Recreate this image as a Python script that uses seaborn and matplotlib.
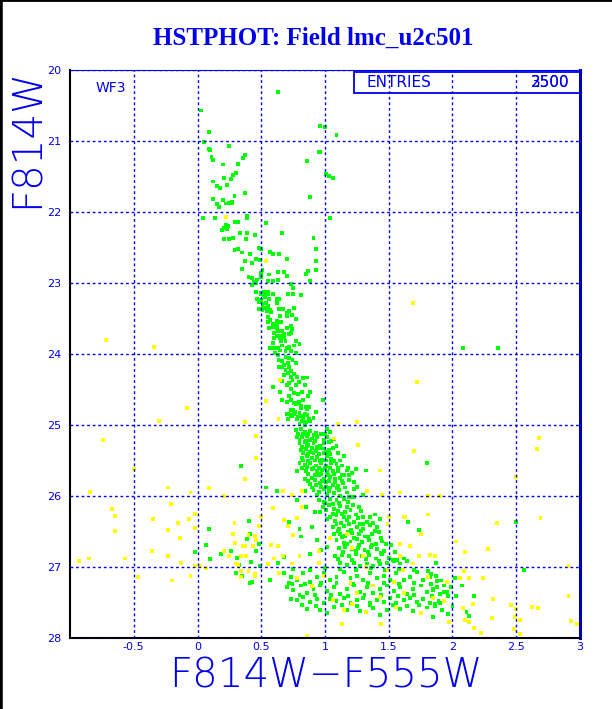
import pandas as pd
import matplotlib
matplotlib.use("Agg")
import matplotlib.pyplot as plt
import seaborn as sns
from matplotlib.ticker import MultipleLocator, FixedLocator

# data: (F814W-F555W, F814W)
upper_ms = [
    (0.63, 20.31), (0.03, 20.57), (0.96, 20.79), (1.00, 20.80), (1.09, 20.91), (0.09, 20.87),
    (0.05, 21.01), (0.25, 21.07), (0.09, 21.11), (0.10, 21.12), (0.37, 21.20), (0.36, 21.24),
    (0.95, 21.15), (0.96, 21.16), (0.11, 21.22), (0.12, 21.27), (0.86, 21.28), (0.32, 21.32),
    (0.20, 21.33), (1.01, 21.46), (1.03, 21.49), (1.06, 21.52), (0.28, 21.48), (0.30, 21.45),
    (0.21, 21.52), (0.26, 21.53), (0.12, 21.57), (0.23, 21.62), (0.15, 21.63), (0.18, 21.66),
    (0.37, 21.73), (0.29, 21.78), (0.88, 21.79), (0.12, 21.81), (0.20, 21.83), (0.25, 21.87),
    (0.27, 21.86), (0.27, 21.88), (0.22, 21.88), (0.15, 21.89), (0.17, 21.93), (0.04, 22.08),
    (0.14, 22.09), (0.39, 22.06), (0.39, 22.08), (0.32, 22.14), (0.29, 22.14), (0.54, 22.15),
    (1.04, 22.08), (0.22, 22.18), (0.24, 22.20), (0.21, 22.23), (0.19, 22.25), (0.23, 22.24),
    (0.39, 22.30), (0.45, 22.32), (0.33, 22.30), (0.66, 22.29), (0.21, 22.38), (0.25, 22.38),
    (0.28, 22.36), (0.38, 22.38), (0.91, 22.37),
]

mid_ms = [
    (0.29, 22.54), (0.32, 22.52), (0.48, 22.51), (0.50, 22.52), (0.57, 22.56), (0.59, 22.59),
    (0.64, 22.59), (0.35, 22.57), (0.41, 22.59), (0.46, 22.66), (0.49, 22.68), (0.43, 22.72),
    (0.37, 22.69), (0.70, 22.66), (0.93, 22.52), (0.93, 22.69), (0.35, 22.80), (0.51, 22.82),
    (0.50, 22.86), (0.56, 22.88), (0.63, 22.85), (0.68, 22.84), (0.93, 22.82), (0.87, 22.83),
    (0.85, 22.87), (0.40, 22.91), (0.43, 22.93), (0.47, 22.95), (0.50, 22.91), (0.55, 22.97),
    (0.59, 22.97), (0.63, 22.96), (0.70, 22.90), (0.88, 22.97), (0.44, 22.99), (0.46, 23.00),
    (0.43, 23.03), (0.73, 23.02), (0.75, 23.07), (0.46, 23.12), (0.50, 23.14), (0.52, 23.13),
    (0.55, 23.12), (0.55, 23.16), (0.50, 23.16), (0.52, 23.17), (0.59, 23.15), (0.71, 23.16),
    (0.75, 23.16), (0.81, 23.17), (0.47, 23.22), (0.50, 23.24), (0.53, 23.20), (0.56, 23.22),
    (0.62, 23.22), (0.64, 23.22), (0.48, 23.27), (0.51, 23.30), (0.54, 23.28), (0.55, 23.32),
    (0.62, 23.28), (0.64, 23.36), (0.67, 23.37), (0.70, 23.42), (0.72, 23.40), (0.76, 23.35),
    (0.51, 23.34), (0.535, 23.35), (0.51, 23.38), (0.545, 23.39), (0.48, 23.37), (0.57, 23.38),
    (0.58, 23.41), (0.65, 23.46), (0.70, 23.47), (0.74, 23.45), (0.77, 23.50), (0.555, 23.48),
    (0.57, 23.52), (0.55, 23.55), (0.59, 23.57), (0.62, 23.54), (0.62, 23.59), (0.655, 23.55),
    (0.59, 23.62), (0.56, 23.63), (0.62, 23.64), (0.63, 23.67), (0.665, 23.68), (0.70, 23.63),
    (0.74, 23.65), (0.73, 23.60), (0.60, 23.71), (0.62, 23.74), (0.645, 23.75), (0.675, 23.72),
    (0.72, 23.72), (0.60, 23.78), (0.645, 23.78), (0.68, 23.76), (0.655, 23.81), (0.69, 23.82),
    (0.73, 23.71), (0.77, 23.82), (0.80, 23.86), (0.755, 23.88), (0.72, 23.90), (0.70, 23.92),
    (0.665, 23.88), (0.63, 23.91), (0.59, 23.85), (0.60, 23.92), (0.57, 23.92), (0.61, 23.98),
    (0.65, 23.95), (0.69, 23.96), (0.73, 23.96), (0.775, 23.98), (0.63, 24.01), (0.69, 24.04),
    (0.72, 24.06), (0.635, 24.09), (0.665, 24.10), (0.71, 24.12), (0.745, 24.08), (0.77, 24.12),
    (0.68, 24.16), (0.72, 24.18), (0.66, 24.18), (0.64, 24.18), (0.69, 24.23), (0.73, 24.24),
    (0.71, 24.27), (0.675, 24.29), (0.755, 24.28), (0.78, 24.32), (0.83, 24.34), (0.86, 24.33),
    (0.73, 24.32), (0.795, 24.39), (0.77, 24.43), (0.72, 24.41), (0.70, 24.44), (0.845, 24.44),
    (0.745, 24.36), (0.59, 24.46), (0.645, 24.53), (0.665, 24.38), (0.73, 24.49), (0.755, 24.55),
    (0.79, 24.56), (0.82, 24.54), (0.88, 24.54), (0.87, 24.59), (0.72, 24.59), (0.665, 24.65),
    (0.70, 24.68), (0.73, 24.65), (0.755, 24.69), (0.795, 24.68), (0.83, 24.65), (0.77, 24.71),
    (0.81, 24.73), (0.85, 24.74), (0.875, 24.75), (0.93, 24.82), (0.985, 24.65), (0.70, 24.84),
    (0.73, 24.86), (0.76, 24.84), (0.785, 24.88), (0.81, 24.87), (0.84, 24.85), (0.75, 24.79),
    (0.71, 24.91), (0.83, 24.91), (0.875, 24.91), (0.91, 24.90), (2.08, 23.92), (2.36, 23.92),
    (0.79, 24.69), (0.81, 24.76), (0.86, 24.77), (0.73, 24.79), (0.765, 24.81), (0.80, 24.83),
    (0.83, 24.87), (0.86, 24.86), (0.74, 24.87), (0.78, 24.92), (0.82, 24.94), (0.85, 24.96),
    (0.885, 24.94), (0.71, 24.85), (0.80, 24.99), (0.84, 24.995),
]

lower_ms = [
    (0.77, 25.07), (0.81, 25.06), (0.84, 25.10), (0.885, 25.08), (0.93, 25.11), (1.015, 25.05),
    (1.04, 25.10), (0.78, 25.17), (0.82, 25.17), (0.86, 25.15), (0.90, 25.19), (0.94, 25.17),
    (1.015, 25.17), (1.07, 25.20), (0.80, 25.26), (0.84, 25.24), (0.87, 25.28), (0.91, 25.25),
    (0.96, 25.30), (0.995, 25.26), (1.03, 25.24), (0.81, 25.35), (0.85, 25.34), (0.885, 25.38),
    (0.93, 25.36), (0.96, 25.33), (1.005, 25.38), (1.03, 25.35), (1.09, 25.30), (0.82, 25.46),
    (0.86, 25.43), (0.90, 25.47), (0.94, 25.45), (0.98, 25.49), (1.015, 25.44), (1.05, 25.48),
    (1.15, 25.44), (0.80, 25.53), (0.84, 25.56), (0.885, 25.54), (0.93, 25.57), (0.97, 25.53),
    (1.005, 25.58), (1.05, 25.54), (1.09, 25.55), (1.13, 25.57), (1.24, 25.62), (1.32, 25.64),
    (0.78, 25.65), (0.85, 25.65), (0.895, 25.62), (0.94, 25.65), (0.98, 25.63), (1.015, 25.66),
    (1.06, 25.65), (1.105, 25.65), (1.17, 25.64), (1.21, 25.68), (0.84, 25.76), (0.90, 25.74),
    (0.95, 25.71), (0.995, 25.76), (1.04, 25.73), (1.08, 25.76), (1.12, 25.74), (1.15, 25.71),
    (1.225, 25.80), (0.885, 25.83), (0.93, 25.85), (0.96, 25.82), (1.01, 25.87), (1.06, 25.84),
    (1.10, 25.86), (1.14, 25.82), (1.005, 25.80), (0.84, 25.93), (0.91, 25.92), (0.95, 25.94),
    (0.99, 25.90), (1.03, 25.93), (1.07, 25.96), (1.11, 25.92), (1.17, 25.95), (1.225, 25.90),
    (1.30, 25.99), (0.94, 25.99), (1.015, 25.99), (1.12, 26.00), (1.20, 26.01),
    (0.79, 25.12), (0.83, 25.13), (0.87, 25.12), (0.91, 25.14), (0.97, 25.13), (1.00, 25.12),
    (0.80, 25.21), (0.85, 25.22), (0.88, 25.21), (0.92, 25.22), (0.99, 25.21), (1.05, 25.22),
    (0.82, 25.31), (0.86, 25.30), (0.90, 25.32), (0.94, 25.31), (0.99, 25.33), (1.06, 25.32),
    (0.83, 25.40), (0.87, 25.41), (0.91, 25.40), (0.95, 25.41), (0.99, 25.40), (1.04, 25.41),
    (1.10, 25.40), (0.83, 25.50), (0.87, 25.51), (0.92, 25.50), (0.96, 25.51), (1.01, 25.50),
    (1.07, 25.51), (1.12, 25.50), (0.82, 25.60), (0.86, 25.59), (0.91, 25.60), (0.95, 25.61),
    (1.00, 25.60), (1.04, 25.61), (1.10, 25.60), (1.18, 25.60), (0.87, 25.69), (0.92, 25.70),
    (0.97, 25.69), (1.02, 25.70), (1.07, 25.69), (1.13, 25.70), (1.19, 25.71), (0.87, 25.79),
    (0.92, 25.78), (0.98, 25.79), (1.03, 25.79), (1.08, 25.80), (1.13, 25.79), (1.19, 25.78),
    (0.90, 25.88), (0.97, 25.87), (1.04, 25.88), (1.09, 25.89), (1.16, 25.88), (1.25, 25.87),
    (0.34, 25.58), (0.62, 25.93), (0.535, 25.88), (1.80, 25.53),
]

faint_ms = [
    (0.95, 26.06), (0.995, 26.08), (1.04, 26.04), (1.09, 26.06), (1.15, 26.04), (1.19, 26.01),
    (1.23, 26.02), (0.985, 26.15), (1.03, 26.13), (1.07, 26.18), (1.12, 26.14), (1.17, 26.16),
    (1.22, 26.13), (1.27, 26.16), (1.16, 26.22), (0.96, 26.23), (1.06, 26.25), (1.09, 26.27),
    (1.135, 26.25), (1.19, 26.29), (1.24, 26.26), (1.30, 26.30), (1.39, 26.26), (1.015, 26.32),
    (1.08, 26.35), (1.125, 26.38), (1.17, 26.34), (1.225, 26.36), (1.275, 26.39), (1.33, 26.37),
    (1.43, 26.32), (1.06, 26.43), (1.11, 26.46), (1.15, 26.42), (1.205, 26.48), (1.25, 26.44),
    (1.30, 26.46), (1.355, 26.41), (1.41, 26.43), (1.07, 26.54), (1.12, 26.53), (1.16, 26.56),
    (1.21, 26.52), (1.265, 26.54), (1.31, 26.57), (1.365, 26.54), (1.42, 26.51), (1.09, 26.62),
    (1.15, 26.66), (1.20, 26.64), (1.25, 26.61), (1.29, 26.65), (1.345, 26.62), (1.40, 26.67),
    (1.45, 26.64), (1.11, 26.73), (1.16, 26.72), (1.215, 26.75), (1.26, 26.73), (1.31, 26.76),
    (1.36, 26.72), (1.41, 26.75), (1.465, 26.77), (1.52, 26.69), (1.08, 26.85), (1.13, 26.83),
    (1.19, 26.85), (1.24, 26.82), (1.29, 26.85), (1.345, 26.83), (1.40, 26.88), (1.45, 26.82),
    (1.50, 26.87), (1.565, 26.90), (1.12, 26.94), (1.17, 26.97), (1.225, 26.94), (1.275, 26.99),
    (1.33, 26.95), (1.38, 26.98), (1.43, 26.96), (1.485, 26.94), (1.54, 26.92), (1.59, 26.95),
    (1.64, 26.91), (1.87, 26.94),
    (1.00, 26.10), (1.06, 26.11), (1.11, 26.10), (1.18, 26.09), (1.01, 26.20), (1.10, 26.21),
    (1.20, 26.20), (1.28, 26.21), (1.04, 26.29), (1.15, 26.30), (1.26, 26.31), (1.35, 26.29),
    (1.09, 26.39), (1.19, 26.40), (1.30, 26.40), (1.38, 26.38), (1.10, 26.49), (1.18, 26.50),
    (1.28, 26.49), (1.39, 26.49), (1.13, 26.58), (1.23, 26.59), (1.34, 26.58), (1.44, 26.59),
    (1.17, 26.68), (1.27, 26.69), (1.37, 26.69), (1.48, 26.68), (1.14, 26.79), (1.24, 26.78),
    (1.34, 26.79), (1.44, 26.80), (1.55, 26.79), (1.10, 26.89), (1.21, 26.90), (1.32, 26.89),
    (1.42, 26.91), (1.53, 26.90), (1.62, 26.88),
    (0.78, 26.06), (0.85, 26.16), (0.92, 26.23), (0.80, 26.46), (0.405, 26.35), (0.09, 26.46),
    (0.10, 26.89), (0.415, 26.53), (0.68, 26.86), (0.63, 26.94), (0.81, 26.57), (0.72, 26.37),
    (0.90, 26.43), (0.94, 26.62), (0.97, 26.76), (1.015, 26.72), (0.885, 26.81), (0.07, 26.69),
    (-0.018, 26.79), (0.185, 26.82), (0.26, 26.78), (0.31, 26.87), (0.39, 26.61), (0.48, 26.68),
    (0.42, 26.93), (0.326, 26.97), (0.457, 26.77), (1.65, 26.37), (1.74, 26.48), (2.50, 26.37),
]

bottom_band = [
    (0.68, 27.09), (0.73, 27.14), (0.78, 27.18), (0.83, 27.09), (0.885, 27.21), (0.94, 27.14),
    (0.99, 27.09), (1.04, 27.18), (1.09, 27.14), (1.15, 27.07), (1.20, 27.16), (1.25, 27.12),
    (1.30, 27.18), (1.355, 27.09), (1.41, 27.16), (1.46, 27.13), (1.51, 27.18), (1.56, 27.09),
    (1.62, 27.18), (1.67, 27.14), (1.72, 27.07), (1.77, 27.18), (1.825, 27.14), (1.88, 27.20),
    (1.93, 27.26), (0.70, 27.28), (0.75, 27.32), (0.81, 27.26), (0.86, 27.37), (0.91, 27.31),
    (0.96, 27.26), (1.015, 27.34), (1.07, 27.28), (1.12, 27.38), (1.17, 27.31), (1.225, 27.26),
    (1.275, 27.35), (1.33, 27.28), (1.38, 27.37), (1.43, 27.31), (1.485, 27.26), (1.54, 27.34),
    (1.59, 27.28), (1.64, 27.38), (1.69, 27.31), (1.75, 27.26), (1.80, 27.35), (1.85, 27.31),
    (1.90, 27.38), (1.955, 27.35), (0.73, 27.45), (0.78, 27.47), (0.83, 27.42), (0.885, 27.49),
    (0.94, 27.45), (0.99, 27.51), (1.04, 27.45), (1.09, 27.48), (1.15, 27.43), (1.20, 27.51),
    (1.25, 27.47), (1.30, 27.43), (1.355, 27.51), (1.41, 27.46), (1.46, 27.49), (1.51, 27.44),
    (1.56, 27.51), (1.62, 27.47), (1.67, 27.43), (1.72, 27.49), (1.77, 27.45), (1.825, 27.51),
    (1.89, 27.48), (0.86, 27.59), (0.96, 27.61), (1.07, 27.56), (1.17, 27.60), (1.275, 27.62),
    (1.38, 27.58), (1.485, 27.61), (1.59, 27.59), (1.69, 27.62), (1.80, 27.57), (1.015, 27.65),
    (1.43, 27.68), (1.64, 27.55),
    (0.75, 27.03), (0.88, 27.04), (1.00, 27.02), (1.12, 27.03), (1.24, 27.04), (1.36, 27.02),
    (1.47, 27.04), (1.58, 27.03), (1.70, 27.04), (1.81, 27.05), (0.72, 27.23), (0.84, 27.24),
    (0.97, 27.22), (1.09, 27.23), (1.22, 27.24), (1.34, 27.22), (1.46, 27.23), (1.58, 27.24),
    (1.70, 27.22), (1.83, 27.24), (0.80, 27.40), (0.92, 27.39), (1.05, 27.40), (1.18, 27.41),
    (1.31, 27.39), (1.44, 27.40), (1.57, 27.41), (1.70, 27.39), (1.84, 27.41), (0.82, 27.54),
    (0.93, 27.55), (1.13, 27.54), (1.25, 27.55), (1.35, 27.53), (1.53, 27.54), (1.74, 27.53),
    (1.86, 27.55),
    (1.83, 27.10), (1.87, 27.13), (1.91, 27.19), (1.88, 27.28), (1.845, 27.32), (1.93, 27.35),
    (1.965, 27.41), (1.89, 27.48), (1.90, 27.51), (1.86, 27.52), (1.92, 27.60), (1.965, 27.66),
    (1.845, 27.70), (2.02, 27.16), (2.075, 27.26), (2.03, 27.41), (2.17, 27.41), (2.00, 27.55),
    (2.11, 27.63), (2.13, 27.69), (1.99, 27.28), (2.56, 27.04),
    (0.30, 27.09), (0.415, 27.22), (0.745, 27.24), (0.49, 26.99), (0.57, 27.18), (0.35, 27.13),
    (0.43, 27.21),
]

field_stars = [
    (0.22, 22.07), (0.535, 22.69), (0.54, 24.66), (0.635, 24.91), (0.645, 24.37),
    (-0.72, 23.80), (-0.34, 23.90), (1.69, 23.28),
    (-0.08, 24.76), (-0.305, 24.94), (0.37, 24.96), (-0.74, 25.21), (0.457, 25.16), (0.46, 25.47),
    (-0.50, 25.62), (0.37, 25.76), (-0.84, 25.94), (-0.23, 25.88), (-0.055, 25.95), (0.09, 25.89),
    (0.21, 26.00), (-0.21, 26.11), (-0.67, 26.18), (-0.645, 26.28), (-0.35, 26.32), (-0.07, 26.32),
    (-0.02, 26.25), (-0.15, 26.38), (-0.645, 26.49), (-0.23, 26.48), (-0.02, 26.45), (0.29, 26.38),
    (0.48, 26.42), (-0.14, 26.59), (0.28, 26.54), (0.45, 26.56), (0.295, 26.66), (-0.36, 26.78),
    (-0.23, 26.85), (-0.85, 26.88), (-0.93, 26.92), (-0.57, 26.88), (-0.13, 26.94), (-0.02, 26.99),
    (0.02, 26.99), (0.07, 27.01), (0.21, 26.77), (0.37, 26.70), (0.436, 26.71), (0.38, 26.85),
    (0.30, 26.95), (0.34, 27.05), (0.45, 27.10), (-0.47, 27.14), (-0.20, 27.19), (-0.055, 27.13),
    (1.72, 24.39), (1.70, 25.36), (1.81, 26.00), (1.81, 26.26), (1.63, 26.29),
    (2.68, 25.18), (2.66, 25.34), (2.50, 25.73), (1.90, 26.00), (2.35, 26.38), (2.69, 26.31),
    (2.03, 26.64), (2.10, 26.79), (2.28, 26.75), (2.91, 26.99), (2.09, 27.05), (2.06, 27.16),
    (2.13, 27.16), (2.24, 27.15), (2.32, 27.45), (2.16, 27.52), (2.08, 27.58), (2.46, 27.53),
    (2.62, 27.56), (2.91, 27.41), (2.50, 27.59), (2.31, 27.72), (2.49, 27.70), (2.48, 27.87),
    (2.17, 27.86), (2.93, 27.76), (2.10, 27.75), (1.825, 26.83), (1.86, 26.85),
    (1.25, 24.96), (1.10, 24.98), (1.07, 25.19), (1.26, 25.28), (1.43, 25.64), (0.67, 25.93),
    (0.82, 25.93), (0.74, 25.98), (1.33, 25.93), (1.45, 25.99), (1.585, 25.95), (0.59, 26.17),
    (0.82, 26.15), (0.50, 26.29), (0.68, 26.34), (0.71, 26.42), (0.78, 26.31), (1.50, 26.30),
    (1.62, 26.30), (0.40, 26.55), (0.75, 26.55), (1.04, 26.59), (1.17, 26.54), (1.49, 26.39),
    (1.59, 26.67), (1.67, 26.70), (1.75, 26.53), (0.36, 26.71), (0.46, 26.62), (0.63, 26.71),
    (0.58, 26.69), (0.34, 26.84), (0.25, 26.85), (0.60, 26.88), (0.67, 26.85), (0.80, 26.84),
    (0.95, 26.78), (1.21, 26.73), (1.30, 26.85), (1.59, 26.85), (1.69, 26.95), (1.74, 26.85),
    (0.32, 26.97), (0.55, 26.96), (0.74, 26.95), (0.95, 26.94), (1.32, 27.00), (1.49, 27.04),
    (1.615, 27.04), (0.40, 27.05), (0.34, 27.14), (0.45, 27.12), (0.64, 27.09), (0.78, 27.15),
    (0.995, 27.13), (1.20, 27.22), (1.38, 27.26), (1.54, 27.21), (1.81, 27.14), (1.955, 27.21),
    (0.90, 27.27), (1.25, 27.36), (1.43, 27.42), (1.62, 27.37), (1.85, 27.44), (1.06, 27.47),
    (1.21, 27.52), (1.56, 27.57), (1.75, 27.65), (1.15, 27.61), (1.32, 27.63), (1.93, 27.48),
    (0.86, 27.97), (2.22, 27.93), (2.53, 27.94), (2.67, 27.58), (2.98, 27.80), (2.53, 27.74),
    (1.13, 27.80), (1.44, 27.80), (2.13, 27.78), (1.97, 27.78),
]

x_ticks = [-0.5, 0, 0.5, 1, 1.5, 2, 2.5, 3]
y_ticks = [20, 21, 22, 23, 24, 25, 26, 27, 28]
entries = "2500"
entries_total = "3500"

rows = []
for name, pts in [("ms", upper_ms + mid_ms + lower_ms + faint_ms + bottom_band),
                  ("field", field_stars)]:
    for c, m in pts:
        rows.append({"color": c, "mag": m, "group": name})
df = pd.DataFrame(rows)

sns.set_style("white")
blue = "#0000ee"

fig = plt.figure(figsize=(6.12, 7.09), dpi=100)
ax = fig.add_axes([0.1144, 0.1001, 0.8333, 0.8011])

sns.scatterplot(data=df, x="color", y="mag", hue="group",
                palette={"ms": "#00ff00", "field": "#ffff00"},
                marker="s", s=8, linewidth=0, legend=False, ax=ax)

ax.set_xlim(-1, 3)
ax.set_ylim(28, 20)
ax.xaxis.set_major_locator(FixedLocator(x_ticks))
ax.yaxis.set_major_locator(FixedLocator(y_ticks))
ax.set_xticklabels([f"{t:g}" for t in x_ticks])
ax.xaxis.set_minor_locator(MultipleLocator(0.1))
ax.yaxis.set_minor_locator(MultipleLocator(0.2))
ax.tick_params(axis="both", which="both", direction="in", colors=blue,
               length=5, width=1, labelsize=8, top=False, right=False)
ax.tick_params(axis="y", pad=6)
ax.tick_params(axis="x", pad=3)

ax.grid(True, which="major", color=blue, linestyle=(0, (2, 2)), linewidth=1)
ax.set_axisbelow(False)

ax.spines["left"].set_color("black")
ax.spines["bottom"].set_color("black")
ax.spines["left"].set_linewidth(1.5)
ax.spines["bottom"].set_linewidth(1.5)
ax.spines["top"].set_color(blue)
ax.spines["right"].set_color("#0000b0")
ax.spines["right"].set_linewidth(2.2)

label_font = dict(fontsize=29, color=blue, family="DejaVu Sans", fontweight="light")
ax.set_xlabel("F814W\u2212F555W", va="center", **label_font)
ax.xaxis.set_label_coords(0.502, -0.066)
ax.set_ylabel("F814W", va="center", **label_font)
ax.yaxis.set_label_coords(-0.085, 0.880)

fig.text(0.512, 1 - 38 / 709, "HSTPHOT: Field lmc_u2c501", ha="center", va="center",
         fontsize=18, fontweight="bold", family="Liberation Serif", color=blue)

# stats box
ax.add_patch(plt.Rectangle((0.557, 0.959), 0.443, 0.038, transform=ax.transAxes,
                           fill=False, edgecolor=blue, linewidth=1.3, clip_on=False))
ax.text(0.582, 0.978, "ENTRIES", transform=ax.transAxes, ha="left", va="center",
        fontsize=11, color=blue, family="DejaVu Sans")
ax.text(0.980, 0.978, entries, transform=ax.transAxes, ha="right", va="center",
        fontsize=11, color=blue, family="DejaVu Sans")
ax.text(0.980, 0.978, entries_total, transform=ax.transAxes, ha="right", va="center",
        fontsize=11, color=blue, family="DejaVu Sans")
ax.text(0.051, 0.968, "WF3", transform=ax.transAxes, ha="left", va="center",
        fontsize=10, color=blue, family="DejaVu Sans")

# black frame on left and top edges
fig.add_artist(plt.Line2D([0, 0], [0, 1], transform=fig.transFigure, color="black", lw=4))
fig.add_artist(plt.Line2D([0, 1], [1, 1], transform=fig.transFigure, color="black", lw=2))

fig.savefig("out.png", dpi=100)
